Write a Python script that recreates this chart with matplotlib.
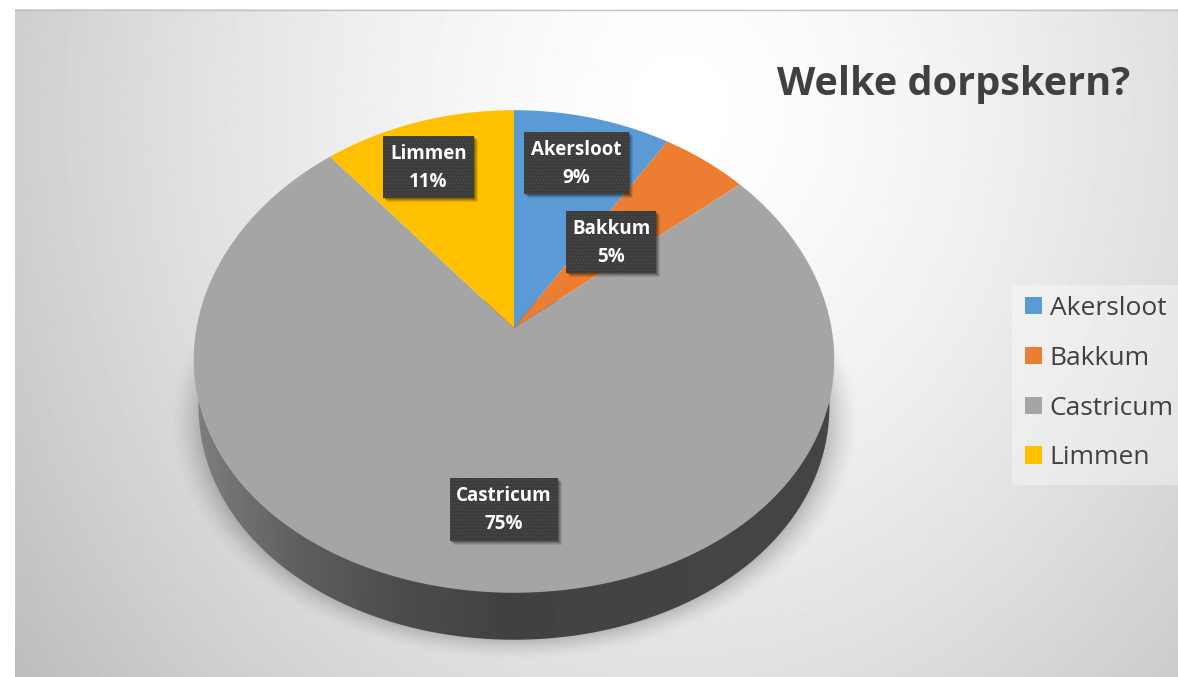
import numpy as np
import matplotlib
matplotlib.use("Agg")
import matplotlib.pyplot as plt
from matplotlib.patches import Rectangle, PathPatch
from matplotlib.path import Path
from matplotlib.transforms import Transform, Affine2D

labels = ["Akersloot", "Bakkum", "Castricum", "Limmen"]
values = [9, 5, 75, 11]
colors = ["#5B9BD5", "#ED7D31", "#A5A5A5", "#FFC000"]
title = "Welke dorpskern?"

W, H = 1178, 677
cx, cy = 514, 328
# tilted disc: unit circle to pixels, with a little perspective
k, kx, fx, fy = 0.0973, 0.13, 317.5, 239.0
depth = 47
plt.rcParams["font.family"] = ["Open Sans", "DejaVu Sans"]


def tilt(u, v):
    return cx + fx * u / (1 + kx * v), cy - fy * v / (1 + k * v)


class TiltTransform(Transform):
    input_dims = 2
    output_dims = 2

    def transform_non_affine(self, values):
        values = np.asarray(values)
        return np.column_stack(tilt(values[:, 0], values[:, 1]))

    def transform_path_non_affine(self, path):
        poly = path.to_polygons(Affine2D().scale(2000), closed_only=True)[0] / 2000
        return Path(self.transform_non_affine(poly))


fig = plt.figure(figsize=(W / 100, H / 100), dpi=100, facecolor="white")
bg = fig.add_axes([0, 0, 1, 1])
bg.axis("off")

# background, radial grey
xx, yy = np.meshgrid(np.arange(15, W + 1), np.arange(9, H + 1))
t = np.sqrt(((xx - 680) / 690) ** 2 + ((yy - 110) / 800) ** 2)
grad = 1 - 0.2 * t ** 1.5
bg.imshow(grad, extent=(15, W, H, 9), cmap="gray", vmin=0, vmax=1, zorder=0, aspect="auto")
bg.plot([15, W], [9.5, 9.5], color="#c4c4c4", lw=1, zorder=1)

# soft shadow under the disc
xs, ys = np.meshgrid(np.arange(140, 890), np.arange(300, 659))
d = np.sqrt(((xs - cx) / 345) ** 2 + ((ys - 420) / 240) ** 2)
a = np.clip((1.0 - d) / 0.14, 0, 1) ** 1.5 * 0.38
a *= np.clip((ys - 330) / 40, 0, 1)
shadow = np.zeros(xs.shape + (4,))
shadow[..., 3] = a
bg.imshow(shadow, extent=(140, 890, 659, 300), zorder=2, aspect="auto")

# side of the disc
th = np.linspace(0, 2 * np.pi, 400)
tx, ty = tilt(np.cos(th), np.sin(th))
side_path = Path(np.column_stack([cx + (tx - cx) * 0.985, ty + depth]))
sx = np.array([194, 240, 300, 400, 500, 834])
sv = np.array([0.50, 0.44, 0.37, 0.30, 0.26, 0.27])
ramp = np.interp(np.arange(194, 835), sx, sv)[None, :]
im = bg.imshow(ramp, extent=(194, 834, 660, 300), cmap="gray", vmin=0, vmax=1, zorder=3, aspect="auto")
im.set_clip_path(PathPatch(side_path, transform=bg.transData))
bg.set_xlim(0, W)
bg.set_ylim(H, 0)

# top of the disc
pie_ax = fig.add_axes([0, 0, 1, 1])
wedges, _ = pie_ax.pie(values, colors=colors, startangle=90, counterclock=False, radius=1)
pie_ax.set_aspect("auto")
pie_ax.patch.set_alpha(0)
for w in wedges:
    w.set_transform(TiltTransform() + bg.transData)
    w.set_clip_on(False)

# labels, in an overlay in pixel coordinates
ov = fig.add_axes([0, 0, 1, 1])
ov.set_xlim(0, W)
ov.set_ylim(H, 0)
ov.axis("off")
ov.patch.set_alpha(0)

boxes = [(524, 132, 105, 62), (566, 211, 90, 62), (450, 478, 108, 63), (383, 136, 91, 62)]
for lab, val, (x, y, w, h) in zip(labels, values, boxes):
    for j, al in ((5, 0.10), (4, 0.12), (3, 0.15), (2, 0.2)):
        ov.add_patch(Rectangle((x + j - 1, y + j - 1), w, h, color="black", alpha=al, lw=0, zorder=5))
    ov.add_patch(Rectangle((x, y), w, h, facecolor="#3b3b3b", edgecolor="#4a4a4a", hatch=".....", lw=0, zorder=6))
    ov.text(x + w / 2, y + 18, lab, color="white", fontsize=13.5, fontweight="bold", ha="center", va="center", zorder=7)
    ov.text(x + w / 2, y + 46, f"{val}%", color="white", fontsize=13.5, fontweight="bold", ha="center", va="center", zorder=7)

ov.text(777, 85, title, color="#404040", fontsize=28.5, fontweight="bold", ha="left", va="center")

ov.add_patch(Rectangle((1012, 285), 166, 200, facecolor="white", alpha=0.35, lw=0))
leg = ov.legend(wedges, labels, loc="upper left", bbox_to_anchor=(1025 / W, 1 - 296 / H),
                bbox_transform=fig.transFigure, frameon=False, fontsize=19, labelcolor="#404040",
                handlelength=0.64, handleheight=0.64, handletextpad=0.3, labelspacing=0.94, borderpad=0,
                borderaxespad=0)

fig.savefig("out.png", dpi=100, facecolor="white")
